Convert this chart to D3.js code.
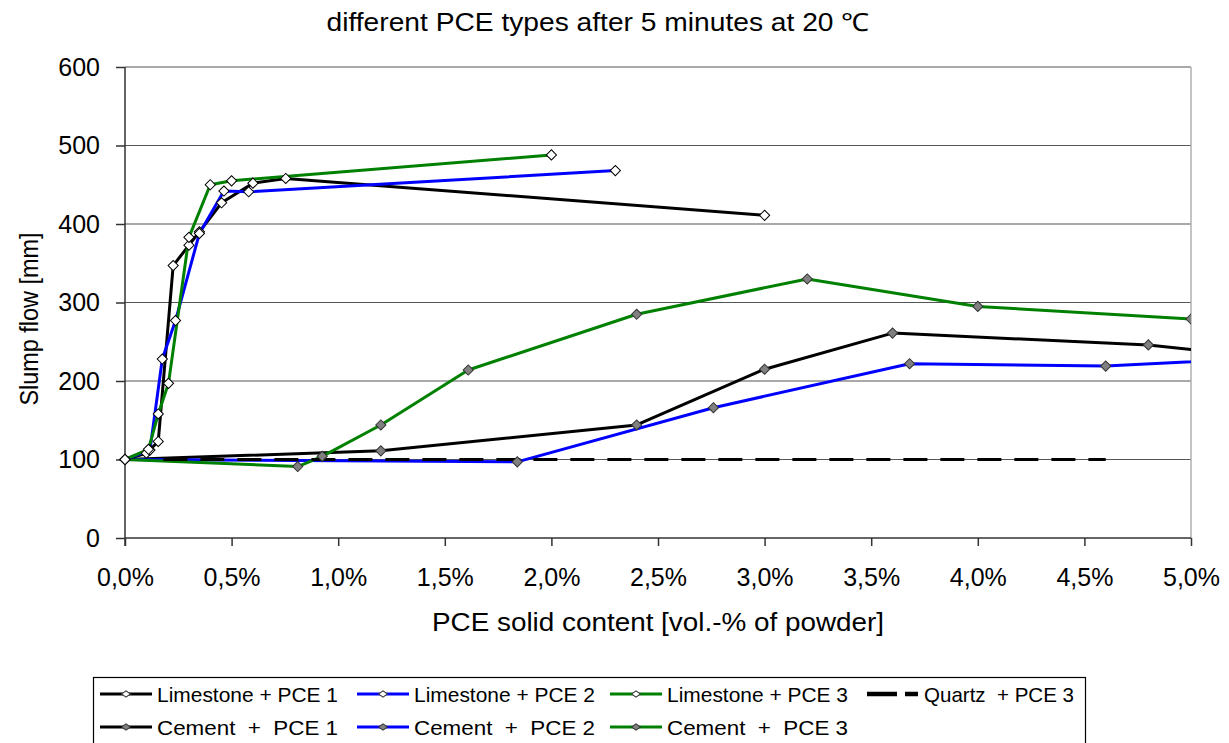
<!DOCTYPE html>
<meta charset="utf-8">
<style>
body { margin: 0; background: #fff; }
text { font-family: "Liberation Sans", Arial, sans-serif; fill: #000; }
.grid line { stroke: #555; stroke-width: 1.2px; }
.series { fill: none; stroke-width: 3px; stroke-linejoin: round; }
</style>
<body>
<script src="https://cdn.jsdelivr.net/npm/d3@7/dist/d3.min.js"></script>
<script>
var width = 1229, height = 743;
var margin = {top: 67, right: 38, bottom: 205, left: 125};

var xTicks = [0, 0.5, 1, 1.5, 2, 2.5, 3, 3.5, 4, 4.5, 5];
var yTicks = [0, 100, 200, 300, 400, 500, 600];

// x = PCE content in %, y = slump flow in mm
var limestonePce1 = [[0,100],[0.10,108],[0.156,123],[0.226,347],[0.30,373],[0.349,390],[0.453,427],[0.60,452],[0.754,458],[3.0,411]];
var limestonePce2 = [[0,100],[0.117,112],[0.175,228],[0.237,277],[0.349,388],[0.464,442],[0.58,441],[2.3,468]];
var limestonePce3 = [[0,100],[0.11,113],[0.156,158],[0.204,197],[0.30,383],[0.40,450],[0.50,455],[2.0,488]];
var quartzPce3 = [[0.18,100],[4.6,100]];
var cementPce1 = [[0,100],[1.20,111],[2.40,144],[3.00,215],[3.60,261],[4.80,246],[6.0,210]];
var cementPce2 = [[0,100],[1.84,97],[2.76,166],[3.68,222],[4.60,219],[6.0,238]];
var cementPce3 = [[0,100],[0.81,91],[0.925,104],[1.20,144],[1.61,214],[2.40,285],[3.20,330],[4.00,295],[5.00,279]];

var series = [
  {name: "Limestone + PCE 1", data: limestonePce1, color: "#000", marker: "#fff", row: 0, col: 0},
  {name: "Limestone + PCE 2", data: limestonePce2, color: "#0000ff", marker: "#fff", row: 0, col: 1},
  {name: "Limestone + PCE 3", data: limestonePce3, color: "#008000", marker: "#fff", row: 0, col: 2},
  {name: "Quartz  + PCE 3", data: quartzPce3, color: "#000", marker: null, dash: "24,13", row: 0, col: 3},
  {name: "Cement  +  PCE 1", data: cementPce1, color: "#000", marker: "#808080", row: 1, col: 0},
  {name: "Cement  +  PCE 2", data: cementPce2, color: "#0000ff", marker: "#808080", row: 1, col: 1},
  {name: "Cement  +  PCE 3", data: cementPce3, color: "#008000", marker: "#808080", row: 1, col: 2}
];
var drawOrder = [4, 5, 6, 3, 0, 1, 2];

var w = width - margin.left - margin.right,
    h = height - margin.top - margin.bottom;

var x = d3.scaleLinear().domain([0, 5]).range([0, w]);
var y = d3.scaleLinear().domain([0, 600]).range([h, 0]);

var svg = d3.select("body").append("svg")
    .attr("width", width)
    .attr("height", height);

svg.append("defs").append("clipPath").attr("id", "clip")
  .append("rect").attr("x", -8).attr("y", -8).attr("width", w + 8).attr("height", h + 16);

var g = svg.append("g").attr("transform", "translate(" + margin.left + "," + margin.top + ")");

// grid
g.append("g").attr("class", "grid")
  .selectAll("line").data(yTicks.slice(1)).enter().append("line")
    .attr("x1", 0).attr("x2", w)
    .attr("y1", function(d) { return y(d); }).attr("y2", function(d) { return y(d); });

g.append("line").attr("x1", w).attr("x2", w).attr("y1", 0).attr("y2", h)
  .attr("stroke", "#b0b0b0").attr("stroke-width", 1.5);

// axes
var yAxis = g.append("g")
  .call(d3.axisLeft(y).tickValues(yTicks).tickSize(9).tickPadding(16));
var xAxis = g.append("g").attr("transform", "translate(0," + h + ")")
  .call(d3.axisBottom(x).tickValues(xTicks).tickSize(8).tickPadding(22)
    .tickFormat(function(d) { return d.toFixed(1).replace(".", ",") + "%"; }));
[yAxis, xAxis].forEach(function(a) {
  a.selectAll("path, line").attr("stroke", "#333").attr("stroke-width", 1.5);
  a.selectAll("text").style("font-size", "25px").attr("font-family", "Liberation Sans, Arial, sans-serif");
});
xAxis.selectAll("text").attr("dy", "0.72em");
xAxis.select(".domain").attr("d", "M0,0H" + w);
yAxis.select(".domain").attr("d", "M0," + (h + 8) + "V0");

var line = d3.line().x(function(d) { return x(d[0]); }).y(function(d) { return y(d[1]); });
var diamond = d3.symbol().type(d3.symbolSquare).size(52);

var plot = g.append("g").attr("clip-path", "url(#clip)");
drawOrder.forEach(function(i) {
  var s = series[i];
  plot.append("path").datum(s.data).attr("class", "series")
    .attr("d", line).attr("stroke", s.color)
    .attr("stroke-dasharray", s.dash || null)
    .attr("stroke-width", s.dash ? 4.5 : 3);
});
drawOrder.forEach(function(i) {
  var s = series[i];
  if (!s.marker) return;
  plot.selectAll(null).data(s.data.filter(function(d) { return d[0] <= 5; })).enter().append("path")
    .attr("d", diamond)
    .attr("transform", function(d) { return "translate(" + x(d[0]) + "," + y(d[1]) + ")rotate(45)"; })
    .attr("fill", s.marker).attr("stroke", s.marker === "#fff" ? "#000" : "#333").attr("stroke-width", 1);
});

// titles
svg.append("text").attr("x", 598).attr("y", 31).attr("text-anchor", "middle")
  .attr("textLength", 543).attr("lengthAdjust", "spacingAndGlyphs")
  .style("font-size", "25px").text("different PCE types after 5 minutes at 20 \u2103");
svg.append("text").attr("x", 658).attr("y", 631).attr("text-anchor", "middle")
  .attr("textLength", 452).attr("lengthAdjust", "spacingAndGlyphs")
  .style("font-size", "25px").text("PCE solid content [vol.-% of powder]");
svg.append("text").attr("transform", "translate(38,319)rotate(-90)").attr("text-anchor", "middle")
  .attr("textLength", 173).attr("lengthAdjust", "spacingAndGlyphs")
  .style("font-size", "25px").text("Slump flow [mm]");

// legend
var legend = svg.append("g");
legend.append("rect").attr("x", 93.5).attr("y", 677.5).attr("width", 992).attr("height", 80)
  .attr("fill", "#fff").attr("stroke", "#000").attr("stroke-width", 1.2);
var colX = [100, 357, 610, 867], rowY = [694, 727];
series.forEach(function(s) {
  var lg = legend.append("g").attr("transform", "translate(" + colX[s.col] + "," + rowY[s.row] + ")");
  lg.append("line").attr("x1", 0).attr("x2", 52).attr("y1", 0).attr("y2", 0)
    .attr("stroke", s.color).attr("stroke-width", s.dash ? 4.5 : 3)
    .attr("stroke-dasharray", s.dash ? "30,8,13,100" : null);
  if (s.marker) {
    lg.append("path").attr("d", d3.symbol().type(d3.symbolSquare).size(30))
      .attr("transform", "translate(26,0)scale(1.15,0.8)rotate(45)")
      .attr("fill", s.marker).attr("stroke", "#333").attr("stroke-width", 1);
  }
  lg.append("text").attr("x", 57).attr("y", 8).attr("textLength", s.dash ? 150 : 181)
    .attr("lengthAdjust", "spacingAndGlyphs").style("font-size", "21px").style("white-space", "pre")
    .attr("xml:space", "preserve").text(s.name);
});
</script>
</body>
